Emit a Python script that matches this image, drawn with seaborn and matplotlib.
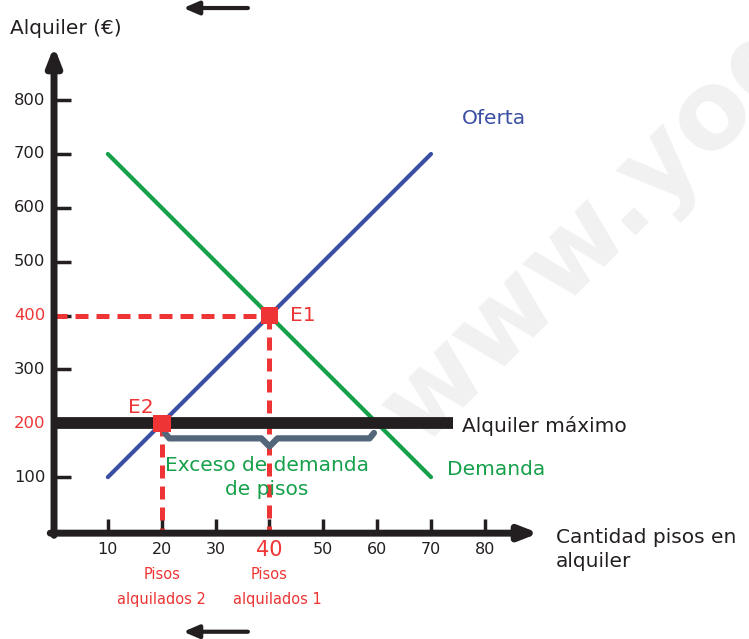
import pandas as pd
import seaborn as sns
import matplotlib.pyplot as plt

# Datos del grafico
cantidad = [10, 70]
oferta = [100, 700]
demanda = [700, 100]
x_ticks = [10, 20, 30, 40, 50, 60, 70, 80]
y_ticks = [100, 200, 300, 400, 500, 600, 700, 800]
equilibrios = ["E1", "E2"]
eq_cantidad = [40, 20]
eq_alquiler = [400, 200]
alquiler_maximo = 200
exceso_desde = 20
exceso_hasta = 60

AZUL = "#3a4fa3"
VERDE = "#15a04a"
ROJO = "#ee3434"
NEGRO = "#231f20"
GRIS = "#546679"

sns.set_style("white")
plt.rcParams["font.family"] = ["DejaVu Sans"]

fig = plt.figure(figsize=(7.49, 6.39), dpi=100)
ax = fig.add_axes([0, 0, 1, 1])
ax.set_xlim(-10.03, 129.04)
ax.set_ylim(-200.5, 985.9)
ax.axis("off")

# Marca de agua
ax.text(68, 154, "www.yoquieroaprobar.es", rotation=45, fontsize=78,
        color="#f1f1f1", fontweight="bold", ha="left", va="baseline",
        rotation_mode="anchor", zorder=0, clip_on=True)

# Ejes con flechas
flecha = dict(arrowstyle="-|>,head_length=0.9,head_width=0.35",
              lw=5, color=NEGRO, shrinkA=0, shrinkB=0, mutation_scale=12)
ax.annotate("", xy=(0, 900), xytext=(0, -8), arrowprops=flecha, zorder=5)
ax.annotate("", xy=(90, -4), xytext=(-0.7, -4), arrowprops=flecha, zorder=5)

# Flechas decorativas
for yy in [971, -187]:
    ax.annotate("", xy=(24, yy), xytext=(36, yy),
                arrowprops=dict(arrowstyle="-|>,head_length=0.7,head_width=0.3",
                                lw=3, color=NEGRO, shrinkA=0, shrinkB=0,
                                mutation_scale=13))

# Marcas de los ejes
for t in x_ticks:
    ax.plot([t, t], [0, 23], color=NEGRO, lw=2.5, solid_capstyle="butt")
    rojo = t == eq_cantidad[0]
    ax.text(t, -35, str(t), ha="center", va="center",
            fontsize=15 if rojo else 11.5, color=ROJO if rojo else NEGRO)
for t in y_ticks:
    ax.plot([0, 3.2], [t, t], color=NEGRO, lw=2.5, solid_capstyle="butt")
    rojo = t in eq_alquiler
    ax.text(-1.6, t, str(t), ha="right", va="center", fontsize=11.8,
            color=ROJO if rojo else NEGRO)

# Lineas guia discontinuas
ax.plot([0, eq_cantidad[0]], [eq_alquiler[0]] * 2, color=ROJO, lw=3.6,
        dashes=(2.6, 1.6), zorder=2)
for qx, py in zip(eq_cantidad, eq_alquiler):
    ax.plot([qx, qx], [py, 0], color=ROJO, lw=3.6, dashes=(2.6, 1.6), zorder=2)

# Oferta y demanda
df = pd.DataFrame({"cantidad": cantidad + cantidad,
                   "alquiler": oferta + demanda,
                   "curva": ["Oferta"] * 2 + ["Demanda"] * 2})
sns.lineplot(data=df, x="cantidad", y="alquiler", hue="curva",
             palette={"Oferta": AZUL, "Demanda": VERDE}, lw=3,
             legend=False, ax=ax, zorder=3)

# Alquiler maximo
ax.plot([0, 74], [alquiler_maximo] * 2, color=NEGRO, lw=8.5,
        solid_capstyle="butt", zorder=4)

# Llave del exceso de demanda
xm = (exceso_desde + exceso_hasta) / 2
llave_x = [exceso_desde + 0.6, exceso_desde + 1.4, xm - 1.5, xm, xm + 1.5,
           exceso_hasta - 1.4, exceso_hasta - 0.6]
llave_y = [182, 172, 172, 157, 172, 172, 182]
ax.plot(llave_x, llave_y, color=GRIS, lw=4.5, solid_joinstyle="round",
        solid_capstyle="round", zorder=3)

# Puntos de equilibrio
sns.scatterplot(x=eq_cantidad, y=eq_alquiler, marker="s", s=160,
                color=ROJO, edgecolor="none", ax=ax, zorder=6)
ax.text(eq_cantidad[0] + 3.8, eq_alquiler[0], equilibrios[0], color=ROJO,
        fontsize=14.5, va="center")
ax.text(eq_cantidad[1] - 6.2, eq_alquiler[1] + 30, equilibrios[1], color=ROJO,
        fontsize=14.5, va="center")

# Etiquetas
ax.text(-8.2, 933, "Alquiler (\u20ac)", fontsize=14.5, color=NEGRO, va="center")
ax.text(75.8, 765, "Oferta", fontsize=14.5, color=AZUL, va="center")
ax.text(75.8, 195, "Alquiler m\u00e1ximo", fontsize=14.5, color=NEGRO,
        va="center")
ax.text(73, 114, "Demanda", fontsize=14.5, color=VERDE, va="center")
ax.text(xm - 0.5, 99, "Exceso de demanda\nde pisos", fontsize=14.5,
        color=VERDE, ha="center", va="center", linespacing=1.35)
ax.text(93.2, -34, "Cantidad pisos en\nalquiler", fontsize=14.5, color=NEGRO,
        ha="left", va="center", linespacing=1.35)
for qx, num, dx in [(eq_cantidad[1], 2, 0), (eq_cantidad[0], 1, 1.5)]:
    ax.text(qx, -80, "Pisos", fontsize=10.5, color=ROJO, ha="center",
            va="center")
    ax.text(qx + dx, -128, f"alquilados {num}", fontsize=10.5, color=ROJO,
            ha="center", va="center")

fig.savefig("out.png", dpi=100)
